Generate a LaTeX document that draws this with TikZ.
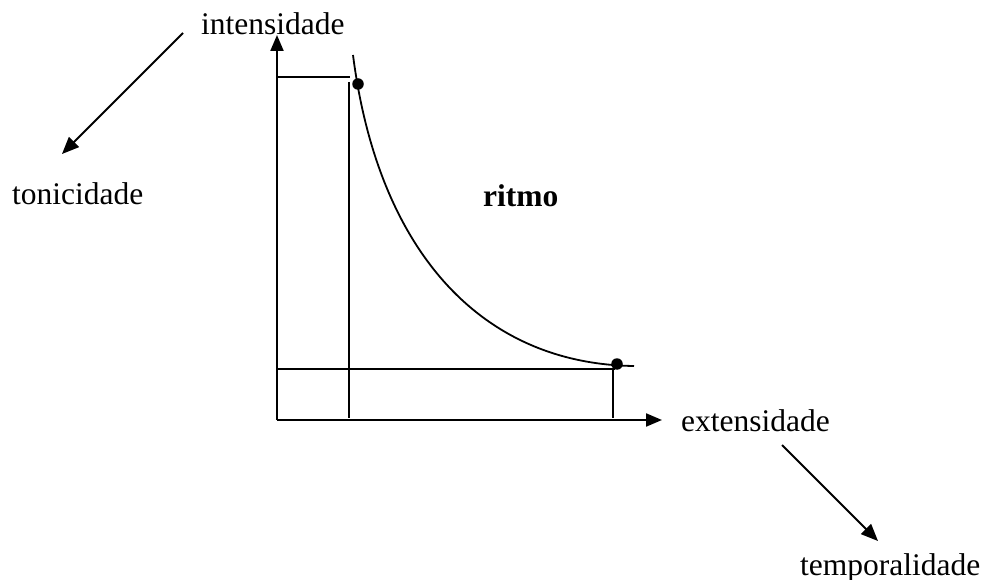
\documentclass[tikz,border=0pt]{standalone}
\usepackage{fontspec}
\setmainfont{Liberation Serif}
\usetikzlibrary{arrows.meta}
\begin{document}
\begin{tikzpicture}[x=1pt,y=-1pt,
  lbl/.style={inner sep=0pt,anchor=base west,font=\fontsize{31.5}{37}\selectfont},
  axis/.style={line width=2.2pt,-{Triangle[length=16pt,width=13pt]}},
  thin/.style={line width=1.9pt},
  arr/.style={line width=1.8pt,-{Triangle[length=17pt,width=14pt]}},
  dot/.style={circle,fill=black,inner sep=0pt,minimum size=11.5pt}]
\useasboundingbox (0,0) rectangle (983,580);
% labels
\node[lbl] (int) at (201,35) {intensidade};
\node[lbl] (ton) at (12,205) {tonicidade};
\node[lbl,font=\fontsize{31.5}{37}\selectfont\bfseries] (rit) at (483,207) {ritmo};
\node[lbl] (ext) at (681,431) {extensidade};
\node[lbl] (tem) at (800,575) {temporalidade};
% coordinates
\coordinate (O) at (277,420);
\coordinate (Ytip) at (277,35);
\coordinate (Xtip) at (662,420);
\coordinate (ht1) at (277,77);
\coordinate (ht2) at (350,77);
\coordinate (v1t) at (349,82);
\coordinate (v1b) at (349,418);
\coordinate (hb1) at (277,369);
\coordinate (hb2) at (615,369);
\coordinate (v2t) at (613,369);
\coordinate (v2b) at (613,418);
\coordinate (cs) at (353,55);
\coordinate (ce) at (634,366);
\coordinate (a1s) at (183,33);
\coordinate (a1e) at (62,154);
\coordinate (a2s) at (782,445);
\coordinate (a2e) at (878,541);
% axes
\draw[axis] (O) -- (Ytip);
\draw[axis] (O) -- (Xtip);
% guide lines
\draw[thin] (ht1) -- (ht2);
\draw[thin] (v1t) -- (v1b);
\draw[thin] (hb1) -- (hb2);
\draw[thin] (v2t) -- (v2b);
% curve
\draw[line width=1.8pt] (cs) .. controls (378,250) and (480,364) .. (ce);
\node[dot] (d1) at (358,84) {};
\node[dot] (d2) at (617,364) {};
% diagonal arrows
\draw[arr] (a1s) -- (a1e);
\draw[arr] (a2s) -- (a2e);
\end{tikzpicture}
\end{document}
